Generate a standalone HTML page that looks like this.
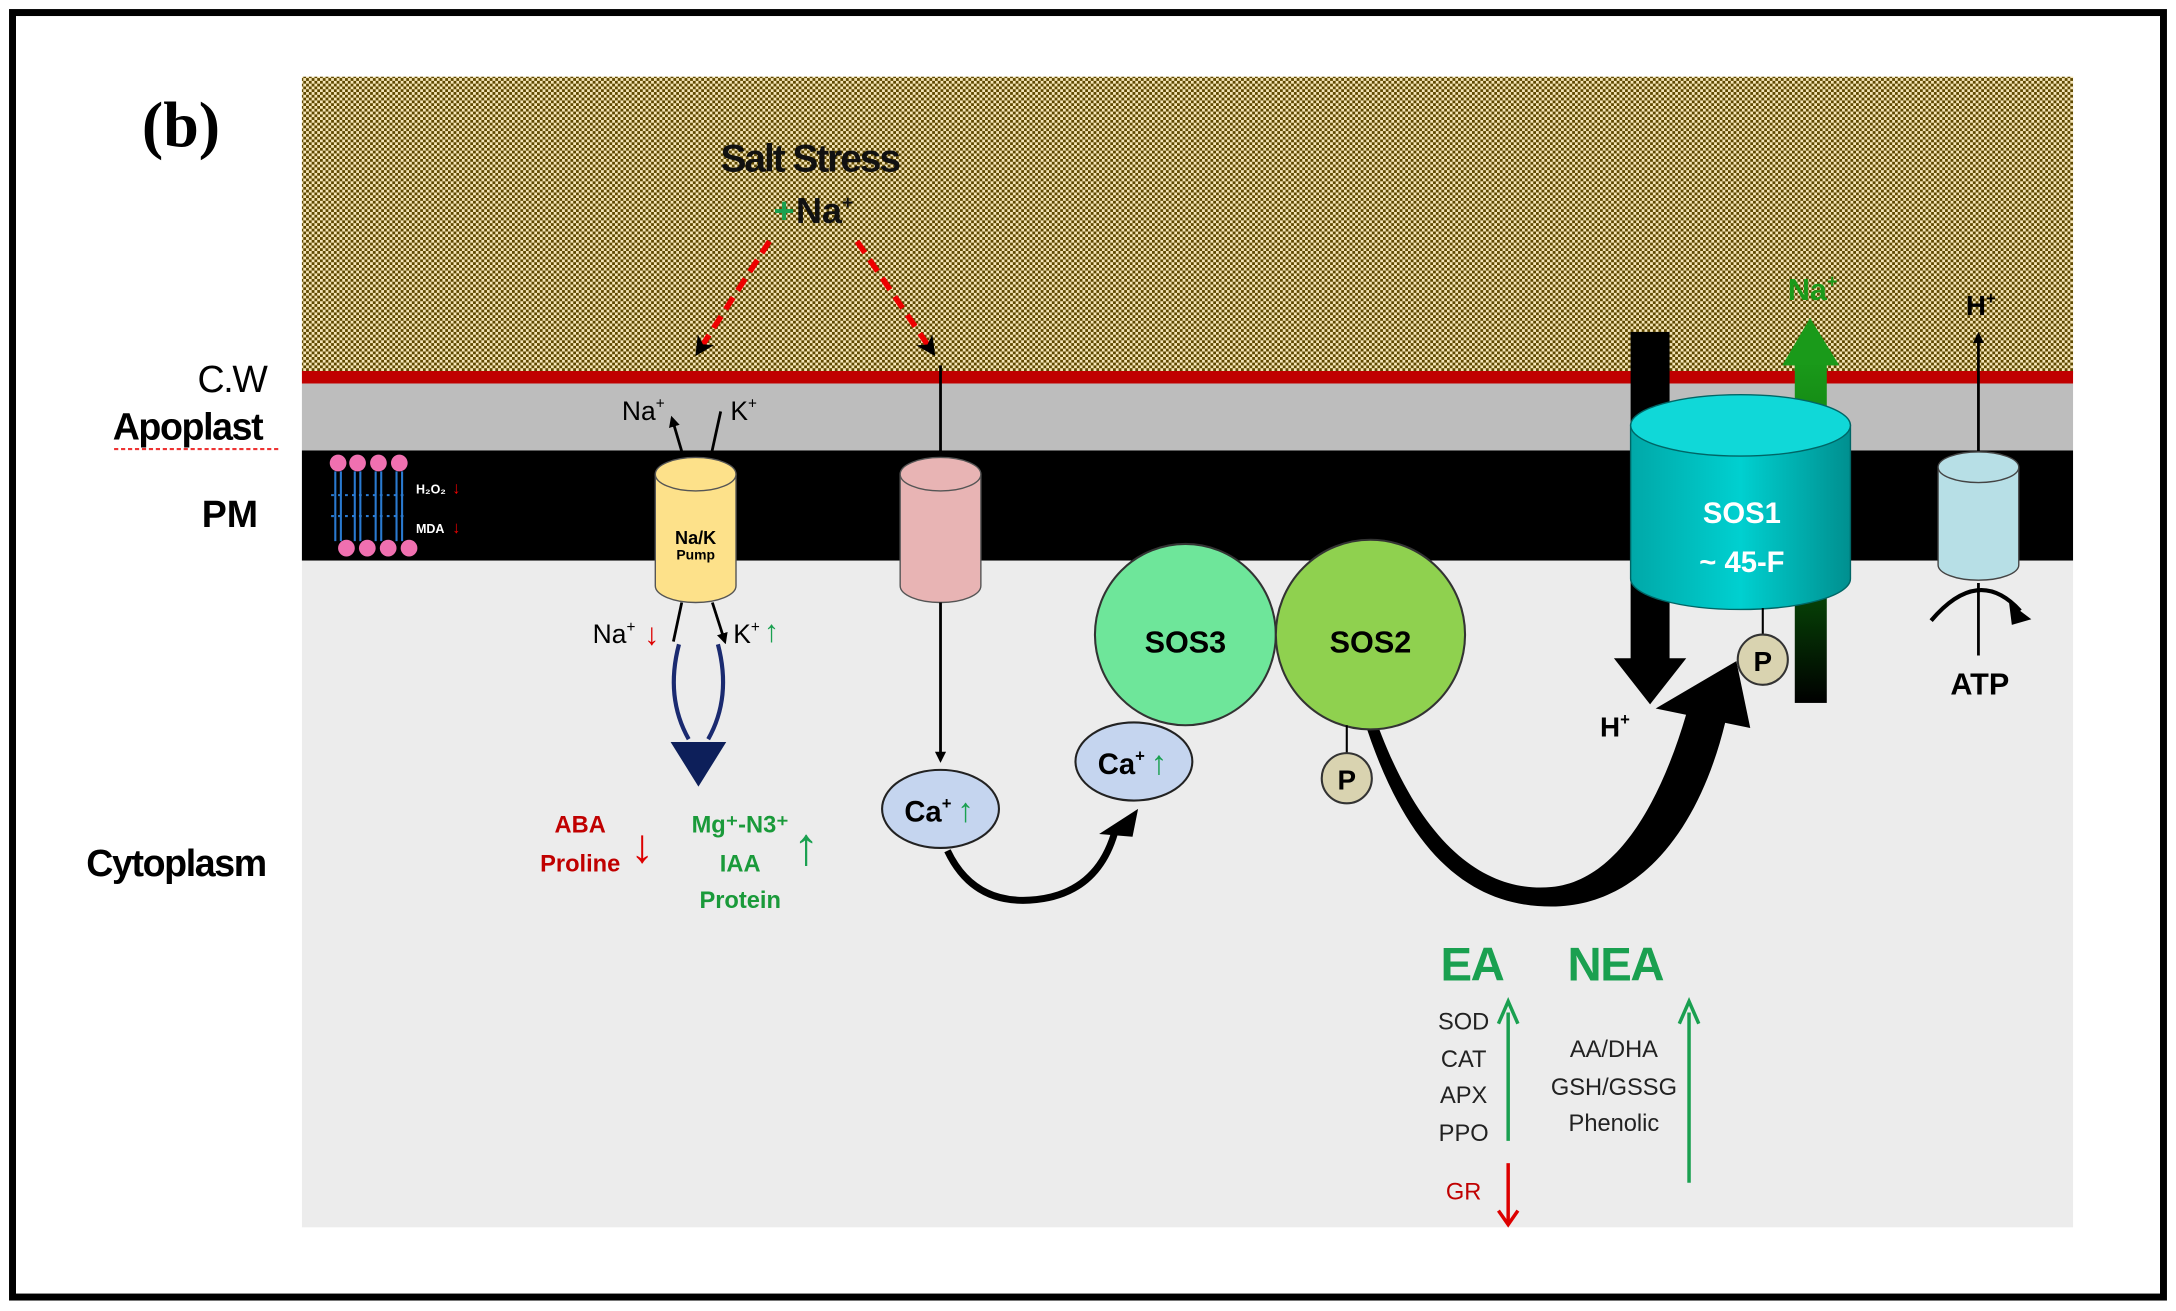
<!DOCTYPE html>
<html><head><meta charset="utf-8"><style>
html,body{margin:0;padding:0;background:#fff;}
svg{display:block;}
text{font-family:"Liberation Sans",sans-serif;}
</style></head><body>
<svg width="2176" height="1311" viewBox="0 0 1564 940" preserveAspectRatio="none" xmlns="http://www.w3.org/2000/svg">
<defs>
<pattern id="dots" width="4" height="4" patternUnits="userSpaceOnUse">
<rect width="4" height="4" fill="#f6e6b8"/>
<rect x="0" y="0" width="2" height="2" fill="#5e4800"/>
<rect x="2" y="2" width="2" height="2" fill="#5e4800"/>
</pattern>
<linearGradient id="teal" x1="0" x2="1"><stop offset="0" stop-color="#00a8a8"/><stop offset="0.5" stop-color="#00d0d0"/><stop offset="1" stop-color="#008f8f"/></linearGradient>
<linearGradient id="grn" x1="0" y1="1" x2="0" y2="0"><stop offset="0" stop-color="#000"/><stop offset="0.5" stop-color="#0a6a0a"/><stop offset="1" stop-color="#1a9a1a"/></linearGradient>
<marker id="ah" markerWidth="8" markerHeight="8" refX="6" refY="4" orient="auto" markerUnits="userSpaceOnUse"><path d="M0,0 L8,4 L0,8 Z" fill="#000"/></marker>
<marker id="ahr" markerWidth="14" markerHeight="14" refX="10" refY="7" orient="auto" markerUnits="userSpaceOnUse"><path d="M0,0 L14,7 L0,14 L4,7 Z" fill="#000"/></marker>
</defs>
<rect x="0" y="0" width="1564" height="940" fill="#fff"/>
<rect x="9" y="9" width="1546" height="921" fill="none" stroke="#000" stroke-width="5"/>
<text x="102" y="105" style="font-family:'Liberation Serif',serif" font-weight="bold" font-size="46">(b)</text>
<rect x="217" y="55" width="1273" height="213" fill="url(#dots)"/>
<rect x="217" y="266" width="1273" height="9" fill="#c00000"/>
<rect x="217" y="275" width="1273" height="48" fill="#bdbdbd"/>
<rect x="217" y="323" width="1273" height="79" fill="#000"/>
<rect x="217" y="402" width="1273" height="478" fill="#ececec"/>
<text x="142" y="281" font-size="27" letter-spacing="-1">C.W</text>
<text x="81" y="315" font-size="27" font-weight="bold" letter-spacing="-1">Apoplast</text>
<line x1="82" y1="322" x2="202" y2="322" stroke="#e33" stroke-width="1.5" stroke-dasharray="3,2"/>
<text x="145" y="378" font-size="27" font-weight="bold">PM</text>
<text x="62" y="628" font-size="27" font-weight="bold" letter-spacing="-1">Cytoplasm</text>
<g fill="#f070b0"><circle cx="243" cy="332" r="6"/><circle cx="257" cy="332" r="6"/><circle cx="272" cy="332" r="6"/><circle cx="287" cy="332" r="6"/>
<circle cx="249" cy="393" r="6"/><circle cx="264" cy="393" r="6"/><circle cx="279" cy="393" r="6"/><circle cx="294" cy="393" r="6"/></g>
<g stroke="#2a7ad0" stroke-width="1.5" fill="none">
<path d="M241,338v50M245,338v50M255,338v50M259,338v50M270,338v50M274,338v50M285,338v50M289,338v50"/>
<path d="M238,355 l55,0 M238,370 l55,0" stroke-dasharray="2,3"/></g>
<text x="299" y="354" font-size="9" fill="#fff" font-weight="bold">H₂O₂</text><text x="325" y="354" font-size="12" fill="#e00">↓</text>
<text x="299" y="382" font-size="9" fill="#fff" font-weight="bold">MDA</text><text x="325" y="382" font-size="12" fill="#e00">↓</text>
<text x="582" y="123" font-size="28" font-weight="bold" text-anchor="middle" fill="#111" letter-spacing="-1.5">Salt Stress</text>
<text x="556" y="160" font-size="26" font-weight="bold" fill="#1aa050">+</text>
<text x="572" y="160" font-size="26" font-weight="bold" fill="#111">Na<tspan font-size="14" dy="-10">+</tspan></text>
<line x1="553" y1="173" x2="502" y2="252" stroke="#e00" stroke-width="4" stroke-dasharray="10,6" marker-end="url(#ahr)"/>
<line x1="616" y1="173" x2="670" y2="252" stroke="#e00" stroke-width="4" stroke-dasharray="10,6" marker-end="url(#ahr)"/>
<path d="M471,340 v80 a29,12 0 0 0 58,0 v-80 Z" fill="#fde18a" stroke="#555"/>
<ellipse cx="500" cy="340" rx="29" ry="12" fill="#fde18a" stroke="#555"/>
<text x="500" y="390" font-size="13" font-weight="bold" text-anchor="middle">Na/K</text>
<text x="500" y="401" font-size="10" font-weight="bold" text-anchor="middle">Pump</text>
<path d="M491,327 L483,300" stroke="#000" stroke-width="2" marker-end="url(#ah)"/>
<path d="M511,327 L518,295" stroke="#000" stroke-width="2"/>
<text x="447" y="301" font-size="19">Na<tspan font-size="11" dy="-8">+</tspan></text>
<text x="525" y="301" font-size="19">K<tspan font-size="11" dy="-8">+</tspan></text>
<path d="M490,432 L484,460" stroke="#000" stroke-width="2"/>
<path d="M512,432 L521,460" stroke="#000" stroke-width="2" marker-end="url(#ah)"/>
<text x="426" y="461" font-size="19">Na<tspan font-size="11" dy="-8">+</tspan></text>
<text x="463" y="462" font-size="22" fill="#d00">↓</text>
<text x="527" y="461" font-size="19">K<tspan font-size="11" dy="-8">+</tspan></text>
<text x="549" y="460" font-size="22" fill="#1aa050">↑</text>
<path d="M488,462 Q478,500 495,530 M516,462 Q526,500 509,530" stroke="#1a2a70" stroke-width="3" fill="none"/>
<path d="M482,532 L522,532 L502,564 Z" fill="#0d1f5a"/>
<g font-size="17" font-weight="bold" fill="#c00000" text-anchor="middle"><text x="417" y="597">ABA</text><text x="417" y="625">Proline</text></g>
<text x="453" y="618" font-size="34" fill="#d00">↓</text>
<g font-size="17" font-weight="bold" fill="#1a9a3a" text-anchor="middle"><text x="532" y="597">Mg⁺-N3⁺</text><text x="532" y="625">IAA</text><text x="532" y="651">Protein</text></g>
<text x="570" y="620" font-size="38" fill="#1aa050">↑</text>
<line x1="676" y1="262" x2="676" y2="330" stroke="#000" stroke-width="2"/>
<path d="M647,340 v80 a29,12 0 0 0 58,0 v-80 Z" fill="#e8b4b4" stroke="#555"/>
<ellipse cx="676" cy="340" rx="29" ry="12" fill="#e8b4b4" stroke="#555"/>
<line x1="676" y1="432" x2="676" y2="545" stroke="#000" stroke-width="2" marker-end="url(#ah)"/>
<ellipse cx="676" cy="580" rx="42" ry="28" fill="#c5d5ef" stroke="#222" stroke-width="1.5"/>
<text x="650" y="589" font-size="21" font-weight="bold">Ca<tspan font-size="12" dy="-9">+</tspan></text>
<text x="688" y="589" font-size="24" fill="#1aa050">↑</text>
<ellipse cx="815" cy="546" rx="42" ry="28" fill="#c5d5ef" stroke="#222" stroke-width="1.5"/>
<text x="789" y="555" font-size="21" font-weight="bold">Ca<tspan font-size="12" dy="-9">+</tspan></text>
<text x="827" y="555" font-size="24" fill="#1aa050">↑</text>
<path d="M681,610 Q700,650 745,645 Q790,640 802,594" stroke="#000" stroke-width="5" fill="none"/>
<path d="M790,598 L818,580 L814,600 Z" fill="#000"/>
<circle cx="852" cy="455" r="65" fill="#6ee69a" stroke="#333" stroke-width="1.5"/>
<text x="852" y="468" font-size="22" font-weight="bold" text-anchor="middle">SOS3</text>
<!-- big curved arrow -->
<path d="M985,505 C1020,610 1070,640 1115,636 C1160,632 1192,580 1212,512 L1240,518 C1220,600 1175,650 1115,650 C1055,650 1010,610 980,515 Z" fill="#000"/>
<path d="M1190,508 L1258,522 L1248,474 Z" fill="#000"/>
<circle cx="985" cy="455" r="68" fill="#8fd14f" stroke="#333" stroke-width="1.5"/>
<text x="985" y="468" font-size="22" font-weight="bold" text-anchor="middle">SOS2</text>
<line x1="968" y1="520" x2="968" y2="540" stroke="#000" stroke-width="1.5"/>
<circle cx="968" cy="558" r="18" fill="#d9d3b0" stroke="#333" stroke-width="1.5"/>
<text x="968" y="566" font-size="20" font-weight="bold" text-anchor="middle">P</text>
<rect x="1172" y="238" width="28" height="240" fill="#000"/>
<path d="M1160,472 L1212,472 L1186,505 Z" fill="#000"/>
<text x="1150" y="528" font-size="20" font-weight="bold">H<tspan font-size="12" dy="-8">+</tspan></text>
<rect x="1290" y="258" width="23" height="246" fill="url(#grn)"/>
<path d="M1281,262 L1322,262 L1301,228 Z" fill="#1a9a1a"/>
<text x="1285" y="215" font-size="22" font-weight="bold" fill="#1a9a1a">Na<tspan font-size="13" dy="-9">+</tspan></text>
<path d="M1172,305 v110 a79,22 0 0 0 158,0 v-110 Z" fill="url(#teal)" stroke="#066"/>
<ellipse cx="1251" cy="305" rx="79" ry="22" fill="#10d8d8" stroke="#066"/>
<text x="1252" y="375" font-size="21" font-weight="bold" fill="#fff" text-anchor="middle">SOS1</text>
<text x="1252" y="410" font-size="21" font-weight="bold" fill="#fff" text-anchor="middle">~ 45-F</text>
<line x1="1267" y1="436" x2="1267" y2="455" stroke="#000" stroke-width="1.5"/>
<circle cx="1267" cy="473" r="18" fill="#d9d3b0" stroke="#333" stroke-width="1.5"/>
<text x="1267" y="481" font-size="20" font-weight="bold" text-anchor="middle">P</text>
<line x1="1422" y1="325" x2="1422" y2="240" stroke="#000" stroke-width="2" marker-end="url(#ah)"/>
<text x="1413" y="226" font-size="20" font-weight="bold">H<tspan font-size="12" dy="-8">+</tspan></text>
<path d="M1393,335 v70 a29,11 0 0 0 58,0 v-70 Z" fill="#b7dfe6" stroke="#444"/>
<ellipse cx="1422" cy="335" rx="29" ry="11" fill="#b7dfe6" stroke="#444"/>
<line x1="1422" y1="418" x2="1422" y2="470" stroke="#000" stroke-width="2"/>
<path d="M1388,445 Q1422,405 1452,438" stroke="#000" stroke-width="3" fill="none"/>
<path d="M1444,432 L1460,444 L1446,448 Z" fill="#000"/>
<text x="1423" y="498" font-size="22" font-weight="bold" text-anchor="middle">ATP</text>
<text x="1058" y="703" font-size="34" font-weight="bold" fill="#1aa050" text-anchor="middle" letter-spacing="-1">EA</text>
<text x="1161" y="703" font-size="34" font-weight="bold" fill="#1aa050" text-anchor="middle" letter-spacing="-1">NEA</text>
<g font-size="17" text-anchor="middle" fill="#222"><text x="1052" y="738">SOD</text><text x="1052" y="765">CAT</text><text x="1052" y="791">APX</text><text x="1052" y="818">PPO</text>
<text x="1160" y="758">AA/DHA</text><text x="1160" y="785">GSH/GSSG</text><text x="1160" y="811">Phenolic</text></g>
<text x="1052" y="860" font-size="17" fill="#c00000" text-anchor="middle">GR</text>
<line x1="1084" y1="818" x2="1084" y2="726" stroke="#1aa050" stroke-width="2.5"/><path d="M1077,734 L1084,718 L1091,734" stroke="#1aa050" stroke-width="2.5" fill="none"/>
<line x1="1214" y1="848" x2="1214" y2="726" stroke="#1aa050" stroke-width="2.5"/><path d="M1207,734 L1214,718 L1221,734" stroke="#1aa050" stroke-width="2.5" fill="none"/>
<line x1="1084" y1="834" x2="1084" y2="876" stroke="#d00" stroke-width="2.5"/><path d="M1077,868 L1084,878 L1091,868" stroke="#d00" stroke-width="2.5" fill="none"/>
</svg>
</body></html>
